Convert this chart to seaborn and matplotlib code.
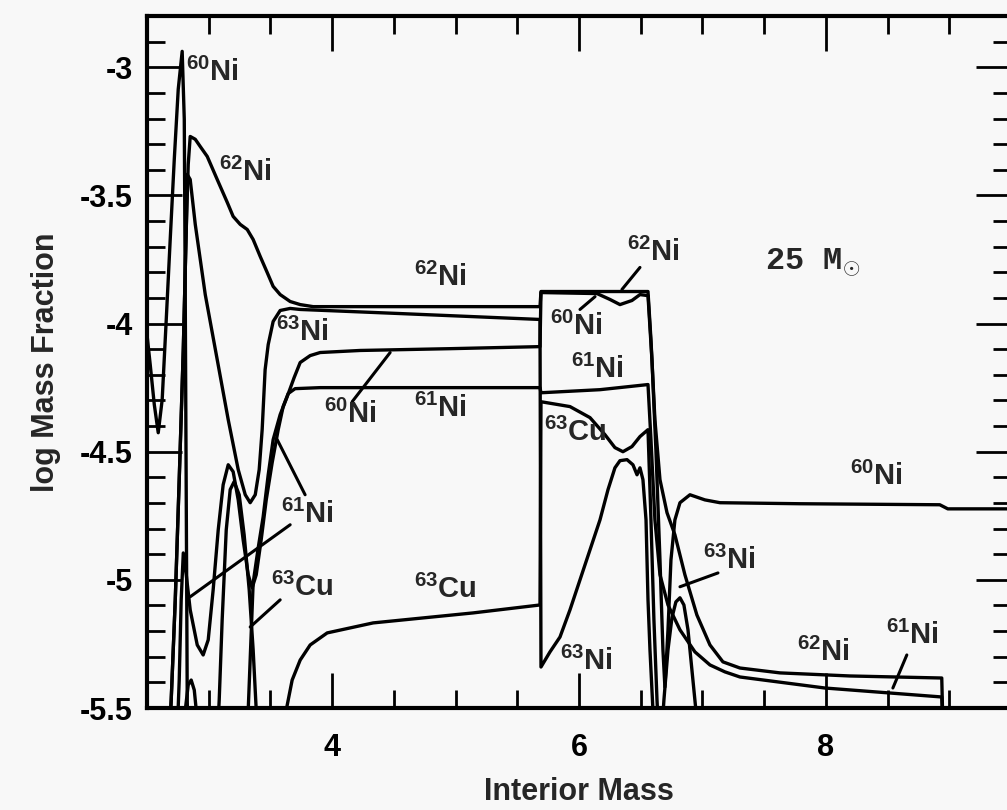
import matplotlib.pyplot as plt
import seaborn as sns
from matplotlib.ticker import MultipleLocator

sns.set_style('ticks')
plt.rcParams['font.family'] = ['Liberation Sans', 'DejaVu Sans']
plt.rcParams['font.weight'] = 'bold'
plt.rcParams['axes.unicode_minus'] = False
plt.rcParams['mathtext.fontset'] = 'custom'
plt.rcParams['mathtext.rm'] = 'Liberation Sans:bold'
plt.rcParams['mathtext.bf'] = 'Liberation Sans:bold'
plt.rcParams['mathtext.default'] = 'bf'

# %% values (interior mass, log mass fraction)
ni60_x = [2.50, 2.526, 2.559, 2.591, 2.623, 2.656, 2.688, 2.721, 2.753, 2.785,
          2.802, 2.810, 2.818, 2.826, 2.834, 3.296, 3.320, 3.360, 3.401, 3.441,
          3.482, 3.522, 3.579, 3.636, 3.692, 3.741, 3.822, 3.903, 4.227, 4.955,
          5.684, 5.692, 6.146, 6.251, 6.332, 6.429, 6.494, 6.559, 6.591, 6.623,
          6.656, 6.680, 6.696, 6.721, 6.745, 6.777, 6.818, 6.899, 7.020, 7.142,
          7.789, 8.923, 8.988, 9.490]
ni60_y = [-4.043, -4.160, -4.316, -4.426, -4.297, -3.984, -3.672, -3.359, -3.086, -2.938,
          -3.203, -3.906, -4.688, -5.469, -5.703, -5.703, -5.508, -5.012, -4.875, -4.754,
          -4.590, -4.453, -4.355, -4.285, -4.211, -4.152, -4.125, -4.113, -4.105, -4.098,
          -4.090, -3.879, -3.883, -3.906, -3.926, -3.910, -3.887, -3.891, -4.141, -4.492,
          -4.922, -5.273, -5.418, -5.195, -4.922, -4.766, -4.699, -4.668, -4.688, -4.699,
          -4.703, -4.707, -4.723, -4.723]

ni61_x = [2.50, 2.737, 2.761, 2.777, 2.794, 2.818, 2.850, 2.907, 2.955, 2.996,
          3.036, 3.077, 3.117, 3.158, 3.198, 3.239, 3.279, 3.320, 3.352, 3.385,
          3.425, 3.466, 3.514, 3.563, 3.603, 3.644, 3.700, 3.903, 5.684, 5.692,
          6.170, 6.559, 6.583, 6.615, 6.656, 6.721, 6.818, 6.939, 7.061, 7.182,
          7.304, 7.992, 8.939, 8.955]
ni61_y = [-5.703, -5.703, -5.391, -5.078, -4.895, -4.980, -5.117, -5.254, -5.293, -5.234,
          -5.039, -4.805, -4.629, -4.551, -4.578, -4.688, -4.844, -4.980, -5.031, -4.980,
          -4.844, -4.688, -4.543, -4.414, -4.324, -4.273, -4.254, -4.250, -4.250, -4.270,
          -4.258, -4.238, -4.453, -4.766, -4.980, -5.098, -5.195, -5.281, -5.332, -5.359,
          -5.379, -5.422, -5.457, -5.703]

ni62_x = [2.50, 2.672, 2.696, 2.729, 2.761, 2.794, 2.818, 2.834, 2.850, 2.891,
          2.931, 2.988, 3.069, 3.150, 3.198, 3.255, 3.312, 3.360, 3.417, 3.474,
          3.522, 3.579, 3.660, 3.741, 3.846, 4.065, 5.684, 5.692, 6.559, 6.583,
          6.615, 6.656, 6.713, 6.777, 6.858, 6.955, 7.061, 7.166, 7.304, 7.628,
          8.194, 8.939, 8.955]
ni62_y = [-5.703, -5.703, -5.469, -5.078, -4.609, -4.102, -3.633, -3.379, -3.270, -3.281,
          -3.309, -3.348, -3.438, -3.527, -3.582, -3.613, -3.633, -3.672, -3.738, -3.801,
          -3.855, -3.887, -3.914, -3.926, -3.934, -3.934, -3.934, -3.875, -3.875, -4.063,
          -4.375, -4.609, -4.738, -4.824, -4.980, -5.137, -5.254, -5.320, -5.344, -5.363,
          -5.375, -5.383, -5.703]

ni63_x = [2.50, 2.672, 2.696, 2.729, 2.761, 2.794, 2.818, 2.826, 2.850, 2.891,
          2.972, 3.069, 3.158, 3.239, 3.296, 3.336, 3.377, 3.409, 3.433, 3.457,
          3.482, 3.522, 3.579, 3.660, 3.741, 4.551, 5.684, 5.692, 5.765, 5.846,
          5.927, 6.008, 6.089, 6.170, 6.235, 6.291, 6.332, 6.389, 6.437, 6.470,
          6.494, 6.518, 6.543, 6.559, 6.575, 6.599, 6.615, 6.656, 6.688, 6.721,
          6.753, 6.785, 6.818, 6.850, 6.883, 6.915, 6.947, 6.972]
ni63_y = [-5.703, -5.703, -5.469, -5.078, -4.609, -4.102, -3.633, -3.418, -3.438, -3.613,
          -3.887, -4.141, -4.375, -4.570, -4.668, -4.699, -4.668, -4.570, -4.414, -4.180,
          -4.082, -3.992, -3.949, -3.941, -3.945, -3.961, -3.984, -5.340, -5.281, -5.223,
          -5.117, -5.000, -4.883, -4.766, -4.648, -4.563, -4.535, -4.531, -4.551, -4.590,
          -4.563, -4.609, -4.766, -5.078, -5.273, -5.508, -5.703, -5.703, -5.469, -5.273,
          -5.148, -5.086, -5.070, -5.098, -5.195, -5.352, -5.508, -5.703]

cu63_x = [2.50, 2.785, 2.810, 2.834, 2.858, 2.883, 2.907, 2.923, 3.061, 3.085,
          3.109, 3.142, 3.174, 3.206, 3.247, 3.287, 3.328, 3.360, 3.385, 3.409,
          3.595, 3.628, 3.676, 3.741, 3.822, 3.960, 4.332, 5.142, 5.684, 5.692,
          5.927, 6.089, 6.211, 6.291, 6.356, 6.429, 6.494, 6.559, 6.583, 6.607,
          6.632, 6.656]
cu63_y = [-5.703, -5.703, -5.508, -5.410, -5.391, -5.430, -5.547, -5.703, -5.703, -5.469,
          -5.156, -4.805, -4.648, -4.617, -4.668, -4.824, -5.039, -5.273, -5.508, -5.703,
          -5.703, -5.508, -5.391, -5.313, -5.254, -5.207, -5.168, -5.129, -5.098, -4.305,
          -4.324, -4.367, -4.434, -4.484, -4.500, -4.480, -4.441, -4.414, -4.766, -5.156,
          -5.469, -5.703]

# isotope labels: text, x, y
labels = [
    (r'$^{60}$Ni', 3.03, -3.02), (r'$^{62}$Ni', 3.30, -3.41), (r'$^{62}$Ni', 4.88, -3.82),
    (r'$^{63}$Ni', 3.76, -4.035), (r'$^{60}$Ni', 4.15, -4.355), (r'$^{61}$Ni', 4.88, -4.332),
    (r'$^{61}$Ni', 3.80, -4.746), (r'$^{63}$Cu', 3.76, -5.031), (r'$^{63}$Cu', 4.92, -5.039),
    (r'$^{62}$Ni', 6.60, -3.723), (r'$^{60}$Ni', 5.98, -4.012), (r'$^{61}$Ni', 6.15, -4.18),
    (r'$^{63}$Cu', 5.97, -4.426), (r'$^{63}$Ni', 6.06, -5.32), (r'$^{60}$Ni', 8.41, -4.598),
    (r'$^{63}$Ni', 7.22, -4.926), (r'$^{62}$Ni', 7.98, -5.285), (r'$^{61}$Ni', 8.70, -5.215),
]
# leader lines from label to curve: x0, y0, x1, y1
leaders = [
    (4.162, -4.305, 4.470, -4.113), (3.781, -4.668, 3.555, -4.453),
    (3.660, -4.785, 2.850, -5.066), (3.579, -5.078, 3.336, -5.184),
    (6.494, -3.781, 6.348, -3.867), (6.130, -3.895, 6.008, -3.945),
    (7.126, -4.973, 6.818, -5.027), (8.656, -5.293, 8.543, -5.422),
]
x_ticks = [4, 6, 8]
y_ticks = [-5.5, -5, -4.5, -4, -3.5, -3]

# %%
bg = '#f8f8f8'
fig = plt.figure(figsize=(10.07, 8.10), dpi=100, facecolor=bg)
ax = fig.add_axes([147 / 1007, 102 / 810, 864 / 1007, 692 / 810], facecolor=bg)

curves = {
    '60Ni': (ni60_x, ni60_y), '61Ni': (ni61_x, ni61_y), '62Ni': (ni62_x, ni62_y),
    '63Ni': (ni63_x, ni63_y), '63Cu': (cu63_x, cu63_y),
}
for name, (xs, ys) in curves.items():
    sns.lineplot(x=xs, y=ys, sort=False, estimator=None, color='black', lw=2.4, ax=ax)

for x0, y0, x1, y1 in leaders:
    ax.plot([x0, x1], [y0, y1], color='black', lw=2.2)

for txt, x, y in labels:
    ax.text(x, y, txt, fontsize=21, fontweight='bold', ha='center', va='center')

ax.text(7.89, -3.76, r'25 M$_{\odot}$', fontsize=23, fontweight='bold',
        family='Liberation Mono', ha='center', va='center')

ax.set_xlim(2.5, 9.5)
ax.set_ylim(-5.5, -2.8)
ax.set_xticks(x_ticks, labels=[f'{t:g}' for t in x_ticks])
ax.set_yticks(y_ticks, labels=[f'{t:g}' for t in y_ticks])
ax.xaxis.set_minor_locator(MultipleLocator(0.5))
ax.yaxis.set_minor_locator(MultipleLocator(0.1))
ax.tick_params(which='both', direction='in', top=True, right=True, width=2, colors='black',
               labelsize=22)
ax.tick_params(which='major', length=25)
ax.tick_params(which='minor', length=13)
ax.tick_params(axis='x', pad=18)
ax.tick_params(axis='y', pad=10)
for s in ax.spines.values():
    s.set_linewidth(3)
    s.set_color('black')

ax.set_xlabel('Interior Mass', fontsize=22, fontweight='bold', labelpad=10)
ax.set_ylabel('log Mass Fraction', fontsize=22, fontweight='bold', labelpad=14)

plt.savefig('out.png', dpi=100, facecolor=bg)
